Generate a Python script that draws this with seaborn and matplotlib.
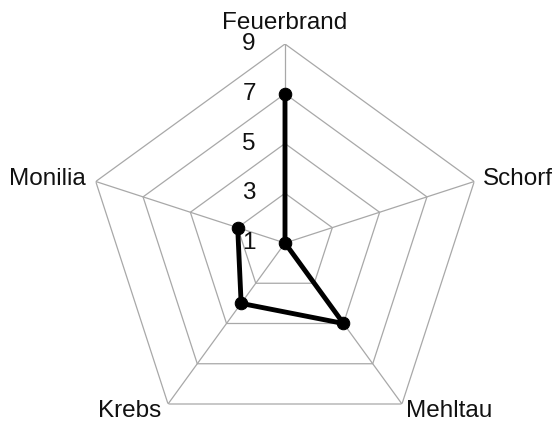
import matplotlib
matplotlib.use('Agg')
import matplotlib.pyplot as plt
import seaborn as sns
import numpy as np
import pandas as pd

categories = ['Feuerbrand', 'Schorf', 'Mehltau', 'Krebs', 'Monilia']
values = [7, 1, 5, 4, 3]
ring_levels = [3, 5, 7, 9]
tick_labels = ['1', '3', '5', '7', '9']
r_min, r_max = 1, 9

sns.set_style('white')
plt.rcParams['font.family'] = ['Liberation Sans', 'DejaVu Sans']

n = len(categories)
angles = np.arange(n) * 2 * np.pi / n

fig = plt.figure(figsize=(5.57, 4.23), dpi=100)
ax = fig.add_axes([86 / 557, -19 / 423, 398 / 557, 398 / 423], projection='polar')
ax.set_theta_offset(np.pi / 2)
ax.set_theta_direction(-1)
ax.set_ylim(r_min, r_max)
ax.grid(False)
ax.spines['polar'].set_visible(False)
ax.set_xticks([])
ax.set_yticks([])
ax.patch.set_alpha(0)

grid_color = '#a8a8a8'
closed = np.append(angles, angles[0])
for lvl in ring_levels:
    ax.plot(closed, [lvl] * (n + 1), color=grid_color, lw=0.9, zorder=1)
for a in angles:
    ax.plot([a, a], [r_min, r_max], color=grid_color, lw=0.9, zorder=1)

# tick labels along the top spoke
for lab in tick_labels:
    ax.annotate(lab, xy=(0, float(lab)), xytext=(-36, 0), textcoords='offset pixels',
                ha='center', va='center', fontsize=17.5, color='#111111', zorder=2)

# category labels
label_pos = {
    'Feuerbrand': ((0, 15), 'center', 'baseline'),
    'Schorf': ((9, 3), 'left', 'center'),
    'Mehltau': ((4, 4), 'left', 'top'),
    'Krebs': ((-7, 4), 'right', 'top'),
    'Monilia': ((-10, 3), 'right', 'center'),
}
for a, cat in zip(angles, categories):
    off, ha, va = label_pos[cat]
    ax.annotate(cat, xy=(a, r_max), xytext=off, textcoords='offset pixels',
                ha=ha, va=va, fontsize=17.5, color='#111111')

df = pd.DataFrame({'theta': np.append(angles, angles[0]),
                   'value': values + values[:1]})
sns.lineplot(data=df, x='theta', y='value', sort=False, ax=ax, color='black',
             lw=3.5, marker='o', markersize=9, markeredgecolor='black', zorder=5)
ax.set_xlabel('')
ax.set_ylabel('')

fig.savefig('out.png', dpi=100)
